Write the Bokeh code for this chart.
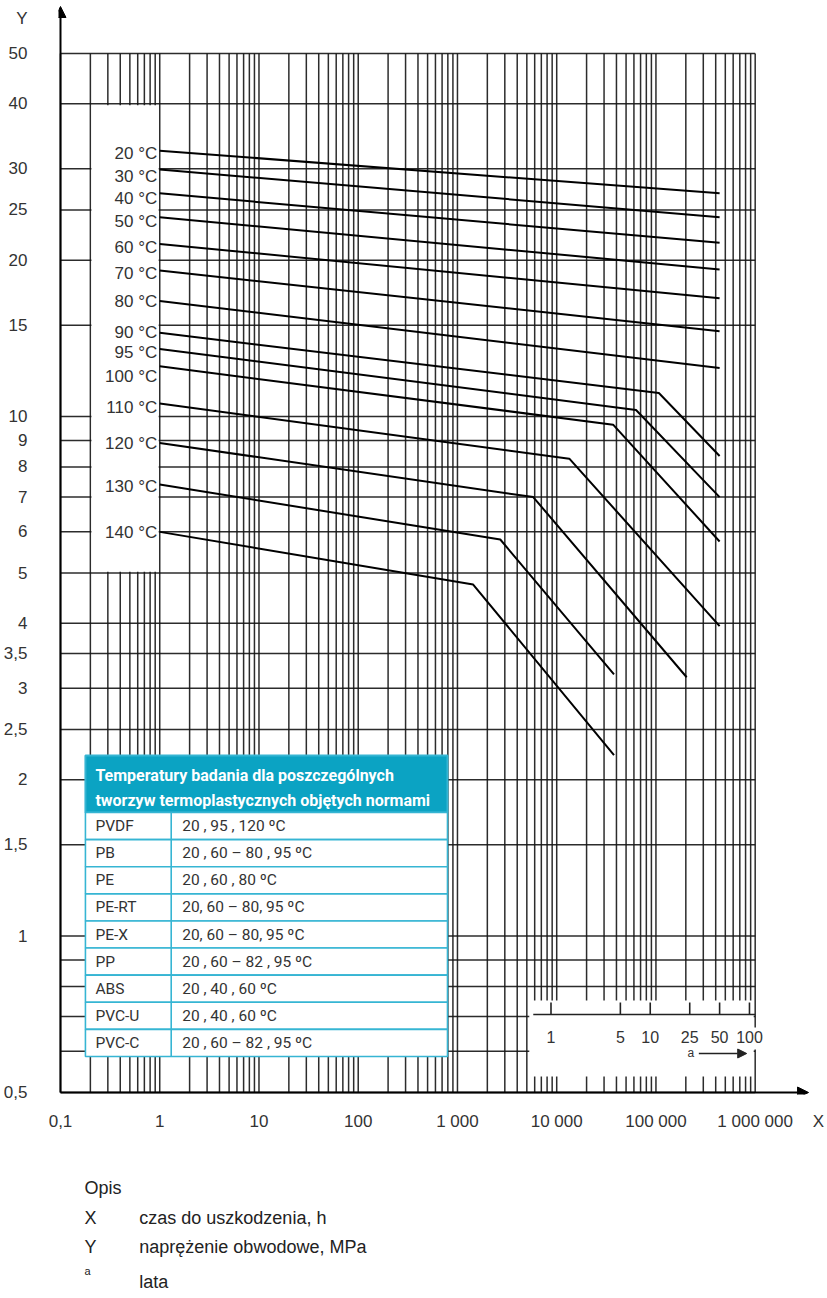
import numpy as np
from bokeh.plotting import figure
from bokeh.layouts import column
from bokeh.models import Range1d, FixedTicker, Arrow, NormalHead
from bokeh.core.properties import value
from bokeh.embed import file_html
from bokeh.resources import INLINE

# ---------------- data ----------------
temp_labels = ["20 °C", "30 °C", "40 °C", "50 °C", "60 °C", "70 °C", "80 °C",
               "90 °C", "95 °C", "100 °C", "110 °C", "120 °C", "130 °C", "140 °C"]

# time to failure (h) at the points of each reference curve
curve_hours = [
    [1, 438000], [1, 438000], [1, 438000], [1, 438000], [1, 438000],
    [1, 438000], [1, 438000],
    [1, 107000, 438000],
    [1, 63000, 438000],
    [1, 37000, 438000],
    [1, 13400, 438000],
    [1, 5800, 204000],
    [1, 2700, 37800],
    [1, 1440, 37800],
]
# hoop stress (MPa) at those points
curve_mpa = [
    [32.5, 26.9],
    [29.9, 24.2],
    [26.9, 21.6],
    [24.2, 19.2],
    [21.5, 16.9],
    [19.1, 14.6],
    [16.7, 12.4],
    [14.5, 11.1, 8.4],
    [13.5, 10.3, 7.0],
    [12.5, 9.65, 5.75],
    [10.6, 8.3, 3.95],
    [8.9, 7.0, 3.15],
    [7.4, 5.8, 3.19],
    [6.0, 4.75, 2.23],
]

x_ticks = [0.1, 1, 10, 100, 1000, 10000, 100000, 1000000]
x_tick_labels = ["0,1", "1", "10", "100", "1 000", "10 000", "100 000", "1 000 000"]
y_ticks = [50, 40, 30, 25, 20, 15, 10, 9, 8, 7, 6, 5, 4, 3.5, 3, 2.5, 2, 1.5, 1, 0.5]
y_tick_labels = ["50", "40", "30", "25", "20", "15", "10", "9", "8", "7", "6", "5", "4",
                 "3,5", "3", "2,5", "2", "1,5", "1", "0,5"]
y_grid = [50, 40, 30, 25, 20, 15, 10, 9, 8, 7, 6, 5, 4, 3.5, 3, 2.5, 2, 1.5, 1,
          0.9, 0.8, 0.7, 0.6, 0.5]
x_grid = [m * 10.0 ** e for e in range(-1, 6) for m in range(1, 10)] + [1e6]

year_ticks = [1, 5, 10, 25, 50, 100]
year_labels = ["1", "5", "10", "25", "50", "100"]
HOURS_PER_YEAR = 8760

materials = ["PVDF", "PB", "PE", "PE-RT", "PE-X", "PP", "ABS", "PVC-U", "PVC-C"]
material_temps = ["20 , 95 , 120 ºC", "20 , 60 – 80 , 95 ºC", "20 , 60 , 80 ºC",
                  "20, 60 – 80, 95 ºC", "20, 60 – 80, 95 ºC", "20 , 60 – 82 , 95 ºC",
                  "20 , 40 , 60 ºC", "20 , 40 , 60 ºC", "20 , 60 – 82 , 95 ºC"]
table_title = ["Temperatury badania dla poszczególnych",
               "tworzyw termoplastycznych objętych normami"]

legend_heading = "Opis"
legend_keys = ["X", "Y", "a"]
legend_texts = ["czas do uszkodzenia, h", "naprężenie obwodowe, MPa", "lata"]

# ---------------- layout helpers (pixel -> data on the log scales) ----------------
W = 827
H_MAIN, H_LEG = 1140, 158
X0_PX, X_DEC = 58.0, 99.5      # pixel of 0.1 h, pixels per decade
Y50_PX, Y_DEC = 53.0, 519.5    # pixel of 50 MPa, pixels per decade
FR_L, FR_R, FR_T, FR_B = 56, W, 0, 1094


def hx(px):
    return 10 ** ((px - X0_PX) / X_DEC - 1)


def vy(py):
    return 10 ** (np.log10(50) - (py - Y50_PX) / Y_DEC)


p = figure(width=W, height=H_MAIN, x_axis_type="log", y_axis_type="log",
           x_range=Range1d(hx(FR_L), hx(FR_R)), y_range=Range1d(vy(FR_B), vy(FR_T)),
           min_border_left=FR_L, min_border_right=W - FR_R,
           min_border_top=FR_T, min_border_bottom=H_MAIN - FR_B,
           output_backend="svg", toolbar_location=None)
p.outline_line_color = None
p.background_fill_color = "white"
p.border_fill_color = "white"
p.grid.visible = False

TICK_FONT = "Liberation Sans"
TXT = "#333333"
for ax in (p.xaxis, p.yaxis):
    ax.axis_line_color = None
    ax.major_tick_line_color = None
    ax.minor_tick_line_color = None
    ax.major_label_text_font = TICK_FONT
    ax.major_label_text_font_size = "17px"
    ax.major_label_text_color = TXT

# axis names "X" and "Y" are written as extra labels at the ends of the axes
x_name_pos, y_name_pos = hx(818), vy(18)
p.xaxis.ticker = FixedTicker(ticks=x_ticks + [x_name_pos])
xo = {(int(t) if t >= 1 else t): l for t, l in zip(x_ticks, x_tick_labels)}
xo[x_name_pos] = "X"
p.xaxis.major_label_overrides = xo
p.xaxis.major_label_standoff = 11
p.yaxis.ticker = FixedTicker(ticks=y_ticks + [y_name_pos])
yo = {(int(t) if float(t).is_integer() else t): l for t, l in zip(y_ticks, y_tick_labels)}
yo[y_name_pos] = "Y"
p.yaxis.major_label_overrides = yo
p.yaxis.major_label_standoff = 25

# ---- log paper grid ----
GRID_COLOR = "#151515"
p.segment(x0=x_grid, x1=x_grid, y0=[0.5] * len(x_grid), y1=[50] * len(x_grid),
          line_color=GRID_COLOR, line_width=1.5, line_alpha=0.9)
p.segment(x0=[0.1] * len(y_grid), x1=[1e6] * len(y_grid), y0=y_grid, y1=y_grid,
          line_color=GRID_COLOR, line_width=1.5, line_alpha=0.9)

# ---- white boxes over the grid ----
box_l = [0.2 * 1.025, hx(83), hx(528), hx(735)]
box_r = [1 / 1.025, hx(446), hx(753), hx(762)]
box_b = [5 * 1.006, vy(1056), vy(1076), vy(1049)]
box_t = [40 / 1.006, vy(755), vy(1000), vy(1027)]
p.quad(left=box_l, right=box_r, bottom=box_b, top=box_t,
       fill_color="white", line_color=None)

# ---- axes with arrows ----
p.add_layout(Arrow(end=NormalHead(size=11, fill_color="black", line_color="black"),
                   x_start=0.1, y_start=0.5, x_end=0.1, y_end=vy(6),
                   line_color="black", line_width=2))
p.add_layout(Arrow(end=NormalHead(size=11, fill_color="black", line_color="black"),
                   x_start=0.1, y_start=0.5, x_end=hx(808), y_end=0.5,
                   line_color="black", line_width=2))

# ---- curves ----
p.multi_line(xs=curve_hours, ys=curve_mpa, line_color="black", line_width=2)

# ---- temperature labels at the start of each curve ----
label_dy = [3, 7, 5, 4, 4, 3, 1, 0, 4, 10, 4, 1, 2, 1]
p.text(x=[hx(155)] * len(temp_labels), y=[c[0] for c in curve_mpa], text=temp_labels,
       y_offset=label_dy, text_font=value(TICK_FONT), text_font_size="17px",
       text_color=TXT, text_align="right", text_baseline="middle")

# ---- table ----
TEAL = "#0BA3C3"
BORDER = "#36B5D3"
t_left, t_right, t_div = hx(83), hx(446), hx(169)
head_top, head_bot = 755, 812
row_h = (1056 - head_bot) / len(materials)
p.quad(left=[t_left], right=[t_right], top=[vy(head_top)], bottom=[vy(head_bot)],
       fill_color=TEAL, line_color=BORDER, line_width=2)
row_tops = [vy(head_bot + i * row_h) for i in range(len(materials))]
row_bots = [vy(head_bot + (i + 1) * row_h) for i in range(len(materials))]
p.quad(left=[t_left] * len(materials), right=[t_right] * len(materials),
       top=row_tops, bottom=row_bots, fill_color="white", line_color=BORDER, line_width=1.6)
p.segment(x0=[t_div], x1=[t_div], y0=[vy(head_bot)], y1=[vy(1056)],
          line_color=BORDER, line_width=1.6)
row_mid = [vy(head_bot + (i + 0.5) * row_h) for i in range(len(materials))]
p.text(x=[hx(93)] * len(materials), y=row_mid, text=materials,
       text_font=value("Roboto"), text_font_size="15.5px", text_color=TXT,
       text_align="left", text_baseline="middle")
p.text(x=[hx(180)] * len(materials), y=row_mid, text=material_temps,
       text_font=value("Roboto"), text_font_size="15.5px", text_color=TXT,
       text_align="left", text_baseline="middle")
p.text(x=[hx(93)] * 2, y=[vy(775), vy(800)], text=table_title,
       text_font=value("Roboto"), text_font_style="bold", text_font_size="16px",
       text_color="white", text_align="left", text_baseline="middle")

# ---- years scale (inset) ----
year_h = [y * HOURS_PER_YEAR for y in year_ticks]
y_scale = vy(1014)
p.segment(x0=[hx(532)], x1=[1e6], y0=[y_scale], y1=[y_scale], line_color="#222222", line_width=1.6)
p.segment(x0=year_h, x1=year_h, y0=[y_scale] * len(year_h), y1=[vy(1002)] * len(year_h),
          line_color="#222222", line_width=1.6)
p.text(x=year_h, y=[vy(1036)] * len(year_h), text=year_labels,
       text_font=value(TICK_FONT), text_font_size="16px", text_color=TXT,
       text_align="center", text_baseline="middle")
p.text(x=[hx(690)], y=[vy(1052)], text=["a"], text_font=value(TICK_FONT),
       text_font_size="12px", text_color=TXT, text_align="center", text_baseline="middle")
p.add_layout(Arrow(end=NormalHead(size=9, fill_color="#222222", line_color="#222222"),
                   x_start=hx(698), y_start=vy(1053), x_end=hx(746), y_end=vy(1053),
                   line_color="#222222", line_width=1.3))

# ---------------- description below the chart ----------------
# its frame is aligned with the chart's frame (left edge at FR_L), so x is in page pixels
LEG_FONT = "Liberation Sans"
LEG_COL = "#222222"
q = figure(width=W, height=H_LEG, x_range=Range1d(FR_L, W), y_range=Range1d(H_LEG, 0),
           min_border=0, min_border_left=FR_L, output_backend="svg", toolbar_location=None)
q.axis.visible = False
q.grid.visible = False
q.outline_line_color = None
q.border_fill_color = "white"
q.background_fill_color = "white"
q.text(x=[82], y=[47], text=[legend_heading], text_font=value(LEG_FONT),
       text_font_size="18px", text_color=LEG_COL, text_align="left", text_baseline="middle")
key_y = [77, 106, 130]
key_size = ["18px", "18px", "11px"]
q.text(x=[82] * 3, y=key_y, text=legend_keys, text_font=value(LEG_FONT),
       text_font_size=key_size, text_color=LEG_COL, text_align="left", text_baseline="middle")
q.text(x=[137] * 3, y=[77, 106, 141], text=legend_texts, text_font=value(LEG_FONT),
       text_font_size="18px", text_color=LEG_COL, text_align="left", text_baseline="middle")

layout = column(p, q, spacing=0)
open("out.html", "w").write(file_html(layout, INLINE))
